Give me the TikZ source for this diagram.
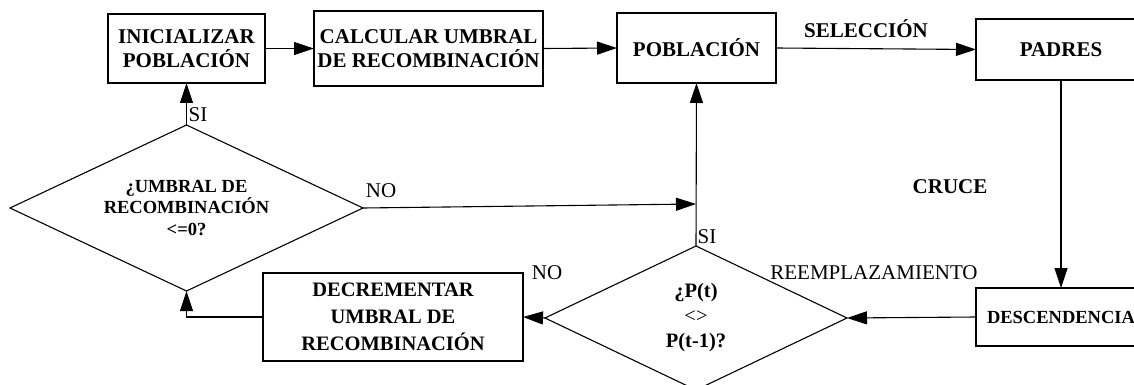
\documentclass[tikz,border=0pt]{standalone}
\usepackage{fontspec}
\setmainfont{Liberation Serif}
\usetikzlibrary{arrows.meta,shapes.geometric}
\begin{document}
\begin{tikzpicture}[x=1pt,y=-1pt,
  every node/.style={inner sep=0pt, outer sep=0pt},
  flow/.style={line width=1.1pt},
  arr/.style={flow, -{Triangle[length=20pt,width=13pt]}},
  procbox/.style={draw, line width=1.1pt, align=center,
    font=\bfseries\fontsize{21}{24}\selectfont},
  decision/.style={draw, diamond, line width=1.1pt, align=center},
  lblb/.style={font=\bfseries\fontsize{21}{24}\selectfont},
  lblr/.style={font=\fontsize{21}{24}\selectfont}]
\useasboundingbox (0,0) rectangle (1134,385);

% process boxes
\node[procbox, minimum width=157pt, minimum height=69pt] (ini) at (186.5,48.5) {INICIALIZAR\\POBLACIÓN};
\node[procbox, minimum width=229pt, minimum height=75pt] (calc) at (428.5,48.5) {CALCULAR UMBRAL\\DE RECOMBINACIÓN};
\node[procbox, minimum width=159pt, minimum height=70pt] (pob) at (696.5,48) {POBLACIÓN};
\node[procbox, minimum width=170pt, minimum height=61pt] (padres) at (1061,49.5) {PADRES};
\node[procbox, minimum width=170pt, minimum height=58pt,
  font=\bfseries\fontsize{18.5}{22}\selectfont] (desc) at (1061,317) {DESCENDENCIA};
\node[procbox, minimum width=260pt, minimum height=88pt,
  font=\bfseries\fontsize{20.5}{27}\selectfont] (decr) at (393,317) {DECREMENTAR\\UMBRAL DE\\RECOMBINACIÓN};

% decisions (wide, flat diamonds)
\node[decision, aspect=2.13, minimum width=353pt, minimum height=166pt,
  font=\bfseries\fontsize{18.5}{21.5}\selectfont] (d1) at (186.5,208)
  {¿UMBRAL DE\\RECOMBINACIÓN\\<=0?};
\node[decision, aspect=2.1, minimum width=302pt, minimum height=144pt,
  font=\bfseries\fontsize{20.5}{25}\selectfont] (d2) at (696,318)
  {¿P(t)\\{\mdseries <>}\\P(t-1)?};

% junction on the return line into POBLACIÓN
\coordinate (j) at (696,204);

% connectors
\draw[arr] (ini.east) -- (calc.west);
\draw[arr] (calc.east) -- (pob.west);
\draw[arr] (pob.east) -- (padres.west);
\draw[arr] (padres.south) -- (desc.north);
\draw[arr] (desc.west) -- (d2.east);
\draw[arr] (d2.west) -- (decr.east);
\draw[arr] (decr.west) -| (d1.south);
\draw[arr] (d1.north) -- (ini.south);
\draw[arr] (d1.east) -- (j);
\draw[arr] (d2.north) -- (pob.south);

% labels
\node[lblb] (lsel) at (866,29) {SELECCIÓN};
\node[lblb] (lcruce) at (950,187) {CRUCE};
\node[lblr] (lreem) at (874,273) {REEMPLAZAMIENTO};
\node[lblr] (lno1) at (381,191) {NO};
\node[lblr] (lno2) at (547,273) {NO};
\node[lblr] (lsi1) at (198,115) {SI};
\node[lblr] (lsi2) at (707,237) {SI};
\end{tikzpicture}
\end{document}
